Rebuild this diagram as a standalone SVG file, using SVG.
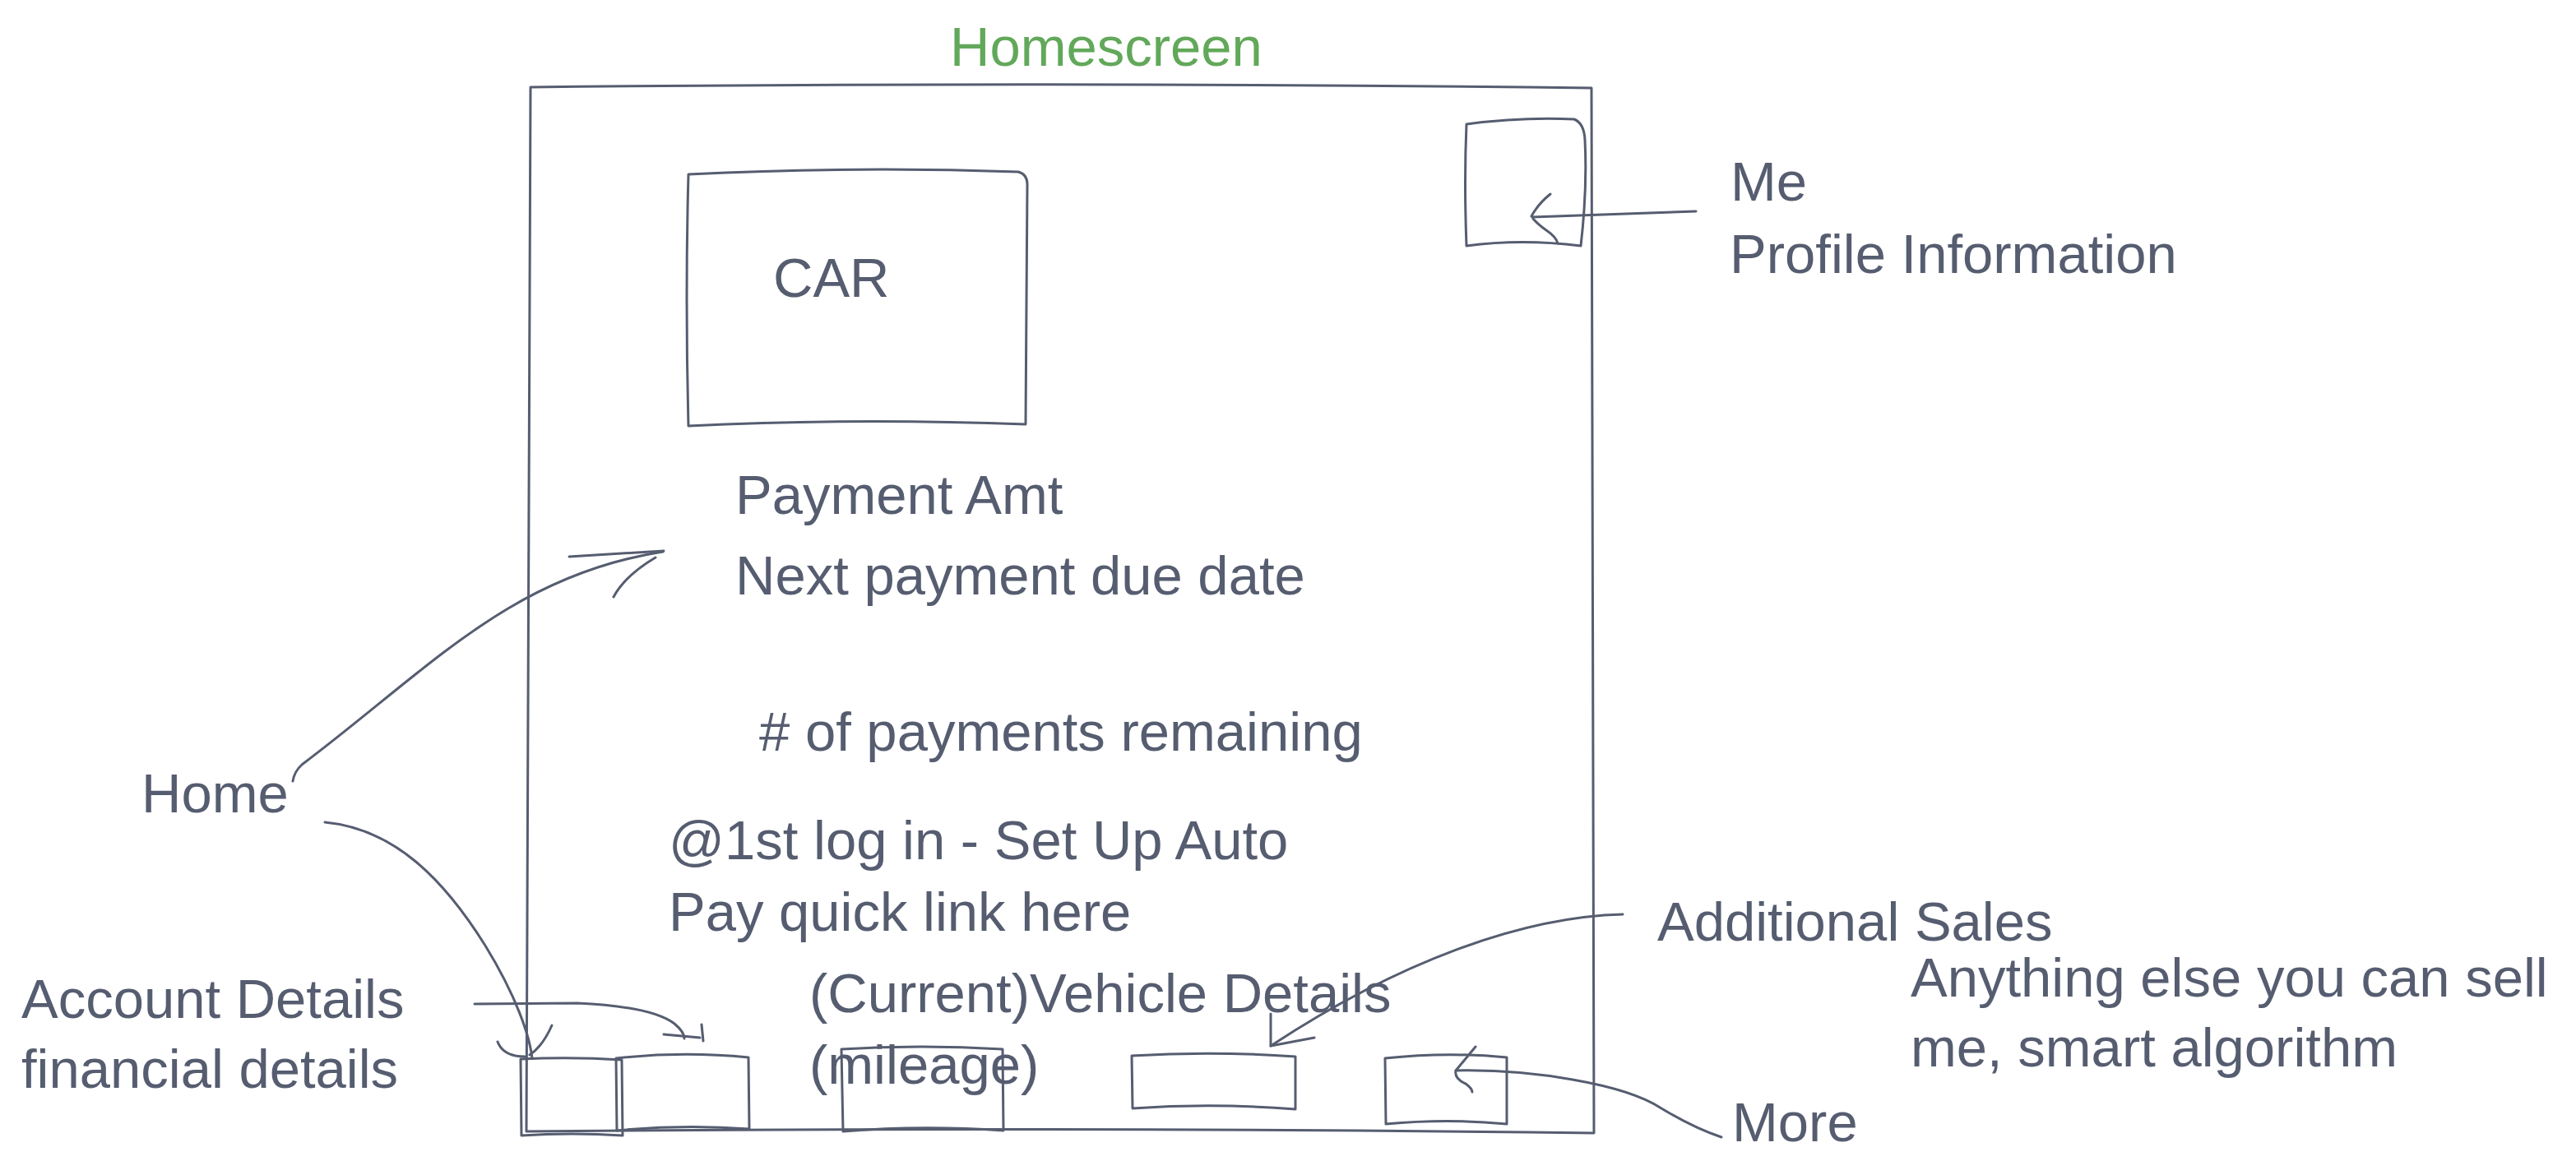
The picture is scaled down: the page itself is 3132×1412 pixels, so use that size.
<svg xmlns="http://www.w3.org/2000/svg" width="3132" height="1412" viewBox="0 0 3132 1412">
<style>
.s{fill:none;stroke:#565d70;stroke-width:3;stroke-linecap:round;stroke-linejoin:round}
.t{font-family:"Liberation Sans",Arial,sans-serif;font-size:67px;fill:#565d70}
.g{font-family:"Liberation Sans",Arial,sans-serif;font-size:67px;fill:#62a85a}
</style>
<rect width="3132" height="1412" fill="#ffffff"/>
<g id="title"><text class="g" x="1155" y="80">Homescreen</text></g>
<g id="frame"><path class="s" d="M645,106 Q1290,99 1935,107 L1938,1378 Q1290,1370 640,1376 Z"/></g>
<g id="car"><path class="s" d="M837,212 Q1040,202 1238,209 Q1249,212 1249,224 L1247,516 Q1040,508 837,518 Q833,360 837,212 Z"/><text class="t" x="940" y="361">CAR</text></g>
<g id="profile-box"><path class="s" d="M1783,151 Q1850,142 1914,145 Q1926,150 1927,170 Q1930,230 1922,299 Q1850,290 1783,299 Q1780,220 1783,151 Z"/></g>
<g id="me-label"><text class="t" x="2104" y="244">Me</text><text class="t" x="2103" y="332">Profile Information</text></g>
<g id="payment"><text class="t" x="894" y="625">Payment Amt</text><text class="t" x="894" y="723">Next payment due date</text></g>
<g id="remaining"><text class="t" x="923" y="913"># of payments remaining</text></g>
<g id="home-label"><text class="t" x="172" y="988">Home</text></g>
<g id="autopay"><text class="t" x="813" y="1045">@1st log in - Set Up Auto</text><text class="t" x="813" y="1132">Pay quick link here</text></g>
<g id="account-label"><text class="t" x="26" y="1238">Account Details</text><text class="t" x="26" y="1323">financial details</text></g>
<g id="vehicle-label"><text class="t" x="984" y="1231">(Current)Vehicle Details</text><text class="t" x="984" y="1318">(mileage)</text></g>
<g id="sales-label"><text class="t" x="2015" y="1144">Additional Sales</text><text class="t" x="2323" y="1212">Anything else you can sell</text><text class="t" x="2323" y="1297">me, smart algorithm</text></g>
<g id="more-label"><text class="t" x="2106" y="1388">More</text></g>
<g id="tab1"><path class="s" d="M633,1288 Q695,1285 756,1289 L757,1381 Q695,1377 634,1381 Z"/></g>
<g id="tab2"><path class="s" d="M749,1287 Q830,1278 910,1286 L911,1373 Q830,1367 750,1375 Z"/></g>
<g id="tab3"><path class="s" d="M1023,1276 Q1120,1270 1219,1276 L1220,1375 Q1120,1368 1025,1376 Z"/></g>
<g id="tab4"><path class="s" d="M1376,1284 Q1475,1278 1575,1285 L1575,1349 Q1475,1341 1377,1348 Z"/></g>
<g id="tab5"><path class="s" d="M1684,1287 Q1760,1279 1832,1286 L1832,1367 Q1760,1360 1685,1367 Z"/></g>
<g id="connectors">
<path class="s" d="M2062,257 L1863,264"/>
<path class="s" d="M1885,236 Q1870,248 1862,263 M1864,266 Q1870,273 1880,280 Q1892,288 1894,296"/>
<path class="s" d="M356,950 Q358,938 367,930 C520,815 620,700 806,671"/>
<path class="s" d="M692,677 L807,670 M797,678 Q760,700 746,726"/>
<path class="s" d="M395,1000 C480,1008 540,1070 590,1150 C628,1212 644,1260 647,1287"/>
<path class="s" d="M605,1267 Q612,1285 638,1285 M671,1247 Q660,1272 644,1283"/>
<path class="s" d="M577,1221 L702,1220 Q792,1224 820,1245 Q832,1255 832,1263"/>
<path class="s" d="M807,1258 L851,1262 M853,1246 L855,1266"/>
<path class="s" d="M1973,1112 C1850,1115 1700,1170 1545,1272"/>
<path class="s" d="M1545,1233 L1545,1272 L1598,1262"/>
<path class="s" d="M2093,1383 Q2060,1372 2020,1348 C1975,1318 1860,1300 1770,1302"/>
<path class="s" d="M1794,1273 L1770,1302 Q1768,1312 1782,1318 Q1790,1324 1790,1328"/>
</g>
</svg>
